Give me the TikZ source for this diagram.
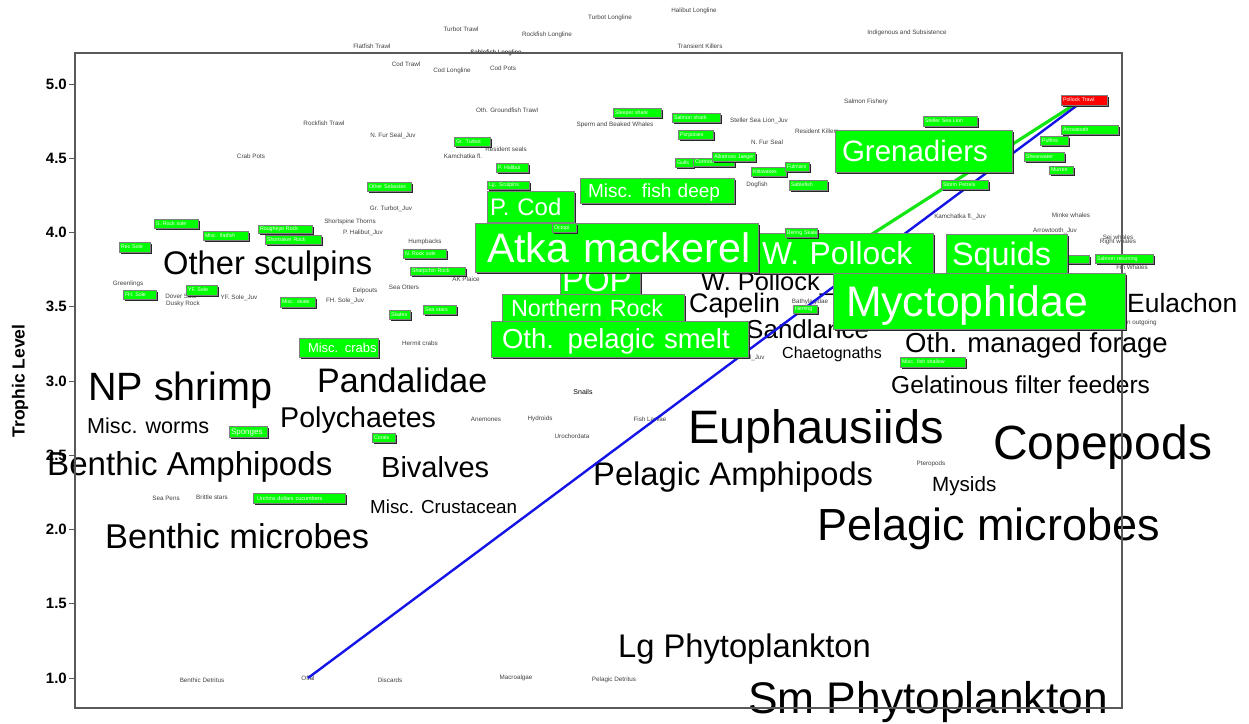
\documentclass[tikz,border=0pt]{standalone}
\usepackage{fontspec}
\setmainfont{Liberation Sans}
\usetikzlibrary{shadows}
\pgfdeclarelayer{back}
\pgfdeclarelayer{mid}
\pgfsetlayers{back,mid,main}
\definecolor{gfill}{RGB}{0,255,0}
\definecolor{rfill}{RGB}{255,0,0}
\definecolor{lblue}{RGB}{20,20,230}
\definecolor{lgreen}{RGB}{20,230,20}
\newcommand\fs[1]{\fontsize{#1}{#1}\selectfont}
% name, x1, y1, x2, y2, font size, pad, text
\newcommand\gb[9][gbox]{%
  \pgfmathsetmacro\gbw{#5-#3-2*#8}%
  \pgfmathsetmacro\gbh{#6-#4}%
  \node[#1, font=\fs{#7}, inner xsep=#8pt, text width=\gbw pt, minimum height=\gbh pt] (#2) at ({(#3+#5)/2},{(#4+#6)/2}) {\mbox{#9}};}
\newcommand\smbox[6]{\gb{#1}{#2}{#3}{#4}{#5}{5.3}{2}{#6}}
\begin{document}
\begin{tikzpicture}[x=1pt,y=-1pt,
  gbox/.style={fill=gfill, draw=black!50, line width=0.9pt, text=white, inner ysep=0pt, align=left, text depth=0pt,
    drop shadow={shadow xshift=1.6pt, shadow yshift=-1.6pt, fill=black!85, opacity=1}},
  rbox/.style={gbox, fill=rfill},
  sm/.style={font=\fs{6.3}, text=black!75, inner sep=0pt},
  big/.style={inner sep=0pt, anchor=base west, text=black},
  tick/.style={font=\bfseries\fs{15}, anchor=east, inner sep=0pt},
  frame/.style={draw=black!65, line width=1.5pt}]
\useasboundingbox (0,0) rectangle (1249,723);

\begin{pgfonlayer}{back}
% small labels
\node[sm] (flattrawl) at (372,46) {Flatfish Trawl};
\node[sm] (turbtrawl) at (461,29) {Turbot Trawl};
\node[sm] (rockll) at (547,35) {Rockfish Longline};
\node[sm] (turbll) at (610,18) {Turbot Longline};
\node[sm] (halll) at (694,11) {Halibut Longline};
\node[sm] (indig) at (907,33) {Indigenous and Subsistence};
\node[sm] (transk) at (700,46) {Transient Killers};
\node[sm, text=black] (sablll) at (496,53) {Sablefish Longline};
\node[sm] (codtrawl) at (406,64) {Cod Trawl};
\node[sm] (codll) at (452,71) {Cod Longline};
\node[sm] (codpots) at (503,68) {Cod Pots};
\node[sm] (othgf) at (507,110) {Oth. Groundfish Trawl};
\node[sm] (rocktrawl) at (324,123) {Rockfish Trawl};
\node[sm] (sperm) at (615,125) {Sperm and Beaked Whales};
\node[sm] (salfish) at (866,102) {Salmon Fishery};
\node[sm] (ssljuv) at (759,121) {Steller Sea Lion\_Juv};
\node[sm] (reskill) at (817,131) {Resident Killers};
\node[sm] (nfur) at (767,142) {N. Fur Seal};
\node[sm] (dogfish) at (757,185) {Dogfish};
\node[sm] (resseals) at (506,149) {Resident seals};
\node[sm] (kamfl) at (463,156) {Kamchatka fl.};
\node[sm] (nfurjuv) at (393,136) {N. Fur Seal\_Juv};
\node[sm] (crabpots) at (251,156) {Crab Pots};
\node[sm] (grtjuv) at (391,209) {Gr. Turbot\_Juv};
\node[sm] (thorns) at (350,222) {Shortspine Thorns};
\node[sm] (phjuv) at (363,233) {P. Halibut\_Juv};
\node[sm] (humpb) at (425,242) {Humpbacks};
\node[sm] (akplaice) at (466,279) {AK Plaice};
\node[sm] (seaott) at (404,287) {Sea Otters};
\node[sm] (eelp) at (365,291) {Eelpouts};
\node[sm] (fhjuv) at (345,301) {FH. Sole\_Juv};
\node[sm] (yfjuv) at (239,298) {YF. Sole\_Juv};
\node[sm] (dover) at (181,296) {Dover Sole};
\node[sm] (dusky) at (183,304) {Dusky Rock};
\node[sm] (greenl) at (128,284) {Greenlings};
\node[sm] (hermit) at (420,343) {Hermit crabs};
\node[sm, text=black, font=\fs{7}] (snails) at (583,392) {Snails};
\node[sm] (anem) at (486,419) {Anemones};
\node[sm] (hydr) at (540,419) {Hydroids};
\node[sm] (larvae) at (650,419) {Fish Larvae};
\node[sm] (uroch) at (572,436) {Urochordata};
\node[sm] (atkajuv) at (738,358) {Atka mackerel\_Juv};
\node[sm] (bathy) at (810,302) {Bathylagidae};
\node[sm] (kamjuv) at (960,217) {Kamchatka fl.\_Juv};
\node[sm] (minke) at (1071,215) {Minke whales};
\node[sm] (arrjuv) at (1055,231) {Arrowtooth\_Juv};
\node[sm] (sei) at (1118,237) {Sei whales};
\node[sm] (right) at (1118,242) {Right whales};
\node[sm] (fin) at (1132,267) {Fin Whales};
\node[sm] (salout) at (1133,323) {Salmon outgoing};
\node[sm] (ptero) at (931,464) {Pteropods};
\node[sm] (seapens) at (166,498) {Sea Pens};
\node[sm] (brittle) at (212,497) {Brittle stars};
\node[sm] (bdet) at (202,680) {Benthic Detritus};
\node[sm] (offal) at (308,678) {Offal};
\node[sm] (discards) at (390,680) {Discards};
\node[sm] (macro) at (516,678) {Macroalgae};
\node[sm] (pdet) at (614,680) {Pelagic Detritus};
% large labels
\node[big, font=\fs{32.7}] (othsc) at (163,274) {Other sculpins};
\node[big, font=\fs{39.5}] (npshrimp) at (88,400) {NP shrimp};
\node[big, font=\fs{34}] (pandal) at (317,392) {Pandalidae};
\node[big, font=\fs{21.6}] (worms) at (87,433) {Misc. worms};
\node[big, font=\fs{28.6}] (polych) at (280,427) {Polychaetes};
\node[big, font=\fs{33.1}] (bamph) at (47,475) {Benthic Amphipods};
\node[big, font=\fs{29}] (bival) at (381,477) {Bivalves};
\node[big, font=\fs{18.8}] (crust) at (370,513) {Misc. Crustacean};
\node[big, font=\fs{34.4}] (bmicro) at (105,548) {Benthic microbes};
\node[big, font=\fs{46.9}] (euph) at (688,443) {Euphausiids};
\node[big, font=\fs{32.7}] (pamph) at (593,485) {Pelagic Amphipods};
\node[big, font=\fs{48}] (cope) at (993,459) {Copepods};
\node[big, font=\fs{20.6}] (mysids) at (932,491) {Mysids};
\node[big, font=\fs{45}] (pmicro) at (817,540) {Pelagic microbes};
\node[big, font=\fs{24.5}] (gelat) at (891,393) {Gelatinous filter feeders};
\node[big, font=\fs{27.5}] (omf) at (905,352) {Oth. managed forage};
\node[big, font=\fs{16}] (chaet) at (782,358) {Chaetognaths};
\node[big, font=\fs{26}] (sandl) at (746,338) {Sandlance};
\node[big, font=\fs{26.8}] (capelin) at (689,312) {Capelin};
\node[big, font=\fs{25.4}] (wpjuv) at (701,290) {W. Pollock\_Juv};
\node[big, font=\fs{26.4}] (eulach) at (1127,312) {Eulachon};
\node[big, font=\fs{32.7}] (lgphyto) at (618,657) {Lg Phytoplankton};
\node[big, font=\fs{44.3}] (smphyto) at (748,713) {Sm Phytoplankton};
% frame and axis
\draw[frame] (75,53) rectangle (1122,708);
\foreach \v [count=\i] in {1.0,1.5,2.0,2.5,3.0,3.5,4.0,4.5,5.0}{
  \pgfmathsetmacro\yy{678-(\v-1)*148.5}
  \draw[black!65, line width=1pt] (69,\yy) -- (75,\yy);
  \node[tick] (tk\i) at (67,\yy) {\v};
}
\node[rotate=90, font=\bfseries\fs{17.5}, inner sep=0pt] (ylab) at (20,381) {Trophic Level};
\end{pgfonlayer}

% big green boxes
\gb{grenadiers}{835}{130}{1012}{172}{29.5}{7}{Grenadiers}
\gb{wpollock}{752}{233}{933}{273}{31.8}{10}{W. Pollock}
\gb{auklets}{1050}{255}{1089}{263}{5.3}{2}{Auklets}
\gb{squids}{946}{234}{1067}{273}{32.4}{6}{Squids}
\gb{myct}{833}{273}{1125}{329}{42.7}{13}{Myctophidae}
\gb{miscdeep}{580}{178}{734}{203}{19}{8}{Misc. fish deep}
\gb{pcod}{487}{191}{574}{222}{23.9}{3}{P. Cod}
\gb{pop}{560}{258}{640}{302}{33}{2}{POP}
\gb{atka}{475}{223}{758}{272}{41.2}{12}{Atka mackerel}
\gb{nrock}{502}{294}{684}{322}{23.4}{9}{Northern Rock}
\gb{smelt}{491}{321}{748}{357}{27.5}{11}{Oth. pelagic smelt}
\gb{crabs}{299}{338}{378}{357}{13}{9}{Misc. crabs}
\gb{sponges}{229}{426}{267}{437}{8}{2}{Sponges}
\gb{corals}{372}{433}{395}{442}{5.3}{2}{Corals}
\gb{urchins}{253}{493}{345}{503}{5.5}{4}{Urchins dollars cucumbers}
% small green boxes
\smbox{sleeper}{613}{108}{661}{117}{Sleeper shark}
\smbox{salmonshark}{672}{113}{720}{122}{Salmon shark}
\smbox{porpoises}{678}{130}{713}{139}{Porpoises}
\smbox{gulls}{675}{158}{693}{167}{Gulls}
\smbox{cormorants}{693}{158}{734}{166}{Cormorants}
\smbox{albatross}{712}{152}{755}{161}{Albatross Jaeger}
\smbox{kittiwakes}{751}{167}{786}{176}{Kittiwakes}
\smbox{fulmars}{785}{162}{809}{171}{Fulmars}
\smbox{sablefish}{789}{180}{827}{190}{Sablefish}
\smbox{grturbot}{454}{137}{490}{146}{Gr. Turbot}
\smbox{phalibut}{496}{163}{528}{172}{P. Halibut}
\smbox{lgsculp}{487}{181}{529}{189}{Lg. Sculpins}
\smbox{octopi}{552}{223}{576}{232}{Octopi}
\smbox{ssl}{923}{116}{977}{126}{Steller Sea Lion}
\smbox{arrow}{1061}{125}{1118}{134}{Arrowtooth}
\smbox{puffins}{1040}{136}{1068}{145}{Puffins}
\smbox{shearw}{1024}{152}{1064}{161}{Shearwater}
\smbox{murres}{1049}{166}{1073}{174}{Murres}
\smbox{storm}{941}{180}{988}{189}{Storm Petrels}
\smbox{salret}{1095}{254}{1153}{263}{Salmon returning}
\smbox{bskate}{785}{228}{817}{237}{Bering Skate}
\smbox{herring}{793}{305}{817}{313}{Herring}
\smbox{shallow}{900}{357}{965}{367}{Misc. fish shallow}
\smbox{othseb}{367}{182}{411}{191}{Other Sebastes}
\smbox{srsole}{154}{219}{198}{228}{S. Rock sole}
\smbox{miscflat}{203}{231}{248}{240}{Misc. flatfish}
\smbox{rougheye}{258}{225}{312}{233}{Rougheye Rock}
\smbox{shortraker}{265}{235}{321}{244}{Shortraker Rock}
\smbox{rexsole}{119}{242}{150}{252}{Rex Sole}
\smbox{nrsole}{403}{249}{446}{258}{N. Rock sole}
\smbox{sharpchin}{410}{267}{465}{275}{Sharpchin Rock}
\smbox{yfsole}{186}{285}{217}{295}{YF. Sole}
\smbox{fhsole}{123}{290}{156}{299}{FH. Sole}
\smbox{miscskate}{280}{297}{315}{307}{Misc. skate}
\smbox{skates}{389}{310}{410}{319}{Skates}
\smbox{seastars}{423}{305}{456}{314}{Sea stars}
% red box
\gb[rbox]{ptrawl}{1061}{95}{1107}{105}{5.3}{2}{Pollock Trawl}

\begin{pgfonlayer}{mid}
\draw[lgreen, line width=3.2pt] ([xshift=-11pt]ptrawl.south) -- (wpollock.center);
\draw[lblue, line width=2.4pt] ([xshift=-7pt]ptrawl.south) -- (offal.center);
\end{pgfonlayer}
\end{tikzpicture}
\end{document}
